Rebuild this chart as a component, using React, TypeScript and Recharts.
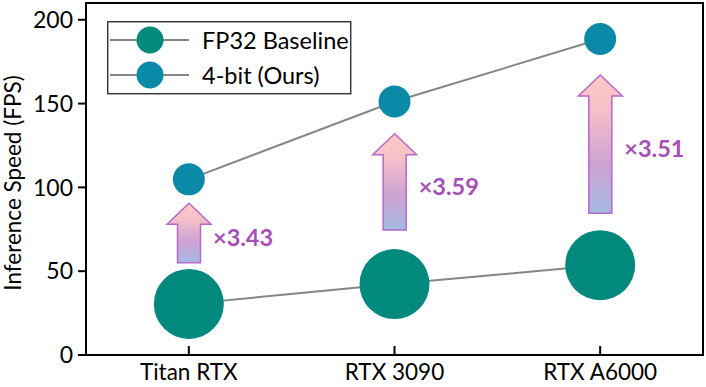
import React from "react";
import { ComposedChart, Line, Bar, XAxis, YAxis, Legend, ReferenceArea } from "recharts";

const categories = ["Titan RTX", "RTX 3090", "RTX A6000"];
const fp32Fps = [30.5, 42.3, 53.6];
const ours4bitFps = [104.8, 151.2, 188.5];
// arrow spans (FPS) between the two markers
const arrowFrom = [55, 74.5, 84.5];
const arrowTo = [90.5, 132, 167];
const speedupLabels = ["×3.43", "×3.59", "×3.51"];
const yTicks = [0, 50, 100, 150, 200];

const data = categories.map((name, i) => ({
    name,
    fp32: fp32Fps[i],
    ours: ours4bitFps[i],
    arrow: [arrowFrom[i], arrowTo[i]],
    label: speedupLabels[i],
}));

const FONT = "Lato, 'Open Sans', sans-serif";
const FP32_COLOR = "#02897e";
const OURS_COLOR = "#0b8aa7";
const LINE_COLOR = "#868686";

function ArrowShape(props: any) {
    const { x, y, width, height, index, payload } = props;
    const cx = x + width / 2;
    const headHalf = 22;
    const shaftHalf = 11.5;
    const headH = 21;
    const bottom = y + height;
    const pts = [
        [cx, y],
        [cx + headHalf, y + headH],
        [cx + shaftHalf, y + headH],
        [cx + shaftHalf, bottom],
        [cx - shaftHalf, bottom],
        [cx - shaftHalf, y + headH],
        [cx - headHalf, y + headH],
    ].map(p => p.join(",")).join(" ");
    const gid = `arrowGrad${index}`;
    return (
        <g>
            <defs>
                <linearGradient id={gid} x1="0" y1="0" x2="0" y2="1">
                    <stop offset="0%" stopColor="#ffc9c4" />
                    <stop offset="25%" stopColor="#f7c0c8" />
                    <stop offset="65%" stopColor="#cda2d4" />
                    <stop offset="100%" stopColor="#a3bbe2" />
                </linearGradient>
            </defs>
            <polygon points={pts} fill={`url(#${gid})`} stroke="#b868c9" strokeWidth={1.5} />
            <text
                x={cx + headHalf + 2}
                y={y + height / 2 + 4}
                dominantBaseline="central"
                fontFamily={FONT}
                fontWeight={700}
                fontSize={23.5}
                fill="#a64fb7"
            >
                {payload.label}
            </text>
        </g>
    );
}

function LegendBox() {
    return (
        <svg width={245} height={74} style={{ display: "block" }}>
            <rect x={0.75} y={0.75} width={243} height={72} fill="#fff" stroke="#222" strokeWidth={1.3} />
            <line x1={3} x2={82} y1={19} y2={19} stroke={LINE_COLOR} strokeWidth={2} />
            <circle cx={43} cy={19} r={13.5} fill={FP32_COLOR} />
            <text x={95} y={19} dominantBaseline="central" fontFamily={FONT} fontSize={23.5} fill="#000">
                FP32 Baseline
            </text>
            <line x1={3} x2={82} y1={54} y2={54} stroke={LINE_COLOR} strokeWidth={2} />
            <circle cx={43} cy={54} r={13.5} fill={OURS_COLOR} />
            <text x={95} y={54} dominantBaseline="central" fontFamily={FONT} fontSize={23.5} fill="#000">
                4-bit (Ours)
            </text>
        </svg>
    );
}

export default function App() {
    return (
        <div style={{ position: "absolute", left: 0, top: 0, background: "#fff" }}>
            <ComposedChart
                width={706}
                height={387}
                data={data}
                margin={{ top: 3, right: 3, left: 26, bottom: 2 }}
            >
                <ReferenceArea y1={0} y2={210} fill="none" stroke="#000" strokeWidth={2} ifOverflow="visible" />
                <XAxis
                    dataKey="name"
                    height={30}
                    axisLine={{ stroke: "#000", strokeWidth: 2 }}
                    tickLine={{ stroke: "#000", strokeWidth: 2 }}
                    tickSize={-9}
                    tickMargin={18}
                    tick={{ fill: "#000", fontSize: 22.5, fontFamily: FONT }}
                />
                <YAxis
                    width={60}
                    domain={[0, 210]}
                    ticks={yTicks}
                    axisLine={{ stroke: "#000", strokeWidth: 2 }}
                    tickLine={{ stroke: "#000", strokeWidth: 2 }}
                    tickSize={8}
                    tickMargin={5}
                    tick={{ fill: "#000", fontSize: 23, fontFamily: FONT }}
                    label={{
                        content: () => (
                            <text
                                x={12}
                                y={183}
                                transform="rotate(-90 12 183)"
                                textAnchor="middle"
                                dominantBaseline="central"
                                fontFamily={FONT}
                                fontSize={22.5}
                                fill="#000"
                            >
                                Inference Speed (FPS)
                            </text>
                        ),
                    }}
                />
                <Legend
                    layout="vertical"
                    align="center"
                    verticalAlign="middle"
                    content={() => <LegendBox />}
                    wrapperStyle={{ position: "absolute", left: 107, top: 21, width: 245, height: 74 }}
                />
                <Line
                    dataKey="fp32"
                    name="FP32 Baseline"
                    stroke={LINE_COLOR}
                    strokeWidth={2}
                    dot={{ r: 35, fill: FP32_COLOR, stroke: "none" }}
                    activeDot={false}
                    isAnimationActive={false}
                />
                <Bar dataKey="arrow" barSize={44} shape={ArrowShape} isAnimationActive={false} />
                <Line
                    dataKey="ours"
                    name="4-bit (Ours)"
                    stroke={LINE_COLOR}
                    strokeWidth={2}
                    dot={{ r: 16, fill: OURS_COLOR, stroke: "none" }}
                    activeDot={false}
                    isAnimationActive={false}
                />
            </ComposedChart>
        </div>
    );
}
